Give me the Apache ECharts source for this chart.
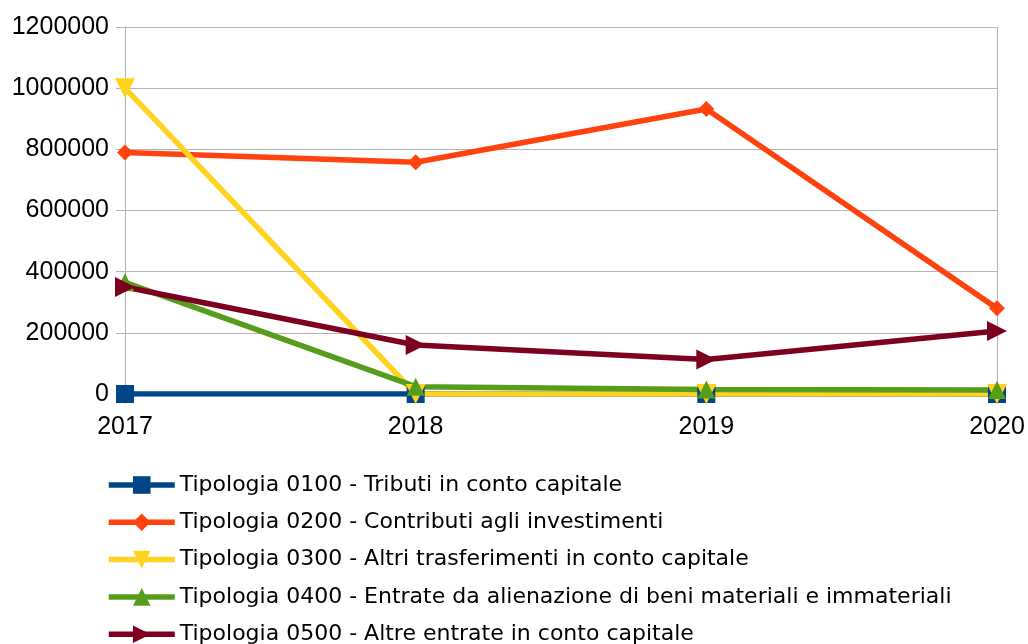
<!DOCTYPE html>
<html><head><meta charset="utf-8">
<script src="https://cdn.jsdelivr.net/npm/echarts@6/dist/echarts.min.js"></script>
<style>html,body{margin:0;padding:0;background:#fff}#c{width:1028px;height:644px}</style>
</head><body><div id="c"></div>
<script>
var years = ['2017', '2018', '2019', '2020'];
var yTicks = [0, 200000, 400000, 600000, 800000, 1000000, 1200000];
var names = [
  'Tipologia 0100 - Tributi in conto capitale',
  'Tipologia 0200 - Contributi agli investimenti',
  'Tipologia 0300 - Altri trasferimenti in conto capitale',
  'Tipologia 0400 - Entrate da alienazione di beni materiali e immateriali',
  'Tipologia 0500 - Altre entrate in conto capitale'
];
var tip0100 = [0, 0, 0, 0];
var tip0200 = [790000, 758000, 932000, 280000];
var tip0300 = [1000000, 0, 0, 0];
var tip0400 = [365000, 24000, 15000, 13000];
var tip0500 = [350000, 160000, 113000, 206000];

var colors = ['#004586', '#ff420e', '#ffd320', '#579d1c', '#7e0021'];
var symbols = ['rect', 'diamond', 'triangle', 'triangle', 'triangle'];
var rotates = [0, 0, 180, 0, -90];
var sizes = [18, 16, 20, 18, 20];
var data = [tip0100, tip0200, tip0300, tip0400, tip0500];

var series = data.map(function (d, i) {
  return {
    name: names[i], type: 'line', data: d,
    symbol: symbols[i], symbolRotate: rotates[i], symbolSize: sizes[i],
    showAllSymbol: true,
    lineStyle: { width: 5.5, color: colors[i] },
    itemStyle: { color: colors[i] },
    emphasis: { disabled: true },
    animation: false
  };
});

var chart = echarts.init(document.getElementById('c'), null, { renderer: 'canvas' });
chart.setOption({
  animation: false,
  grid: { left: 125, right: 31, top: 27, bottom: 250, containLabel: false },
  xAxis: {
    type: 'category', data: years, boundaryGap: false,
    axisLine: { show: true, lineStyle: { color: '#b3b3b3' } },
    axisTick: { show: true, length: 10, lineStyle: { color: '#b3b3b3' } },
    splitLine: { show: true, interval: function (idx) { return idx === years.length - 1; }, lineStyle: { color: '#b3b3b3', width: 1 } },
    axisLabel: { color: '#000', fontSize: 25, fontFamily: 'Liberation Sans', margin: 21 }
  },
  yAxis: {
    type: 'value', min: yTicks[0], max: yTicks[yTicks.length - 1], interval: 200000,
    axisLine: { show: true, lineStyle: { color: '#b3b3b3' } },
    axisTick: { show: true, length: 9, lineStyle: { color: '#b3b3b3' } },
    splitLine: { show: true, lineStyle: { color: '#b3b3b3', width: 1 } },
    axisLabel: { color: '#000', fontSize: 25, fontFamily: 'Liberation Sans', margin: 16,
      formatter: function (v) { return String(v); } }
  },
  legend: {
    orient: 'vertical', left: 101, top: 469, height: 176,
    itemWidth: 66, itemHeight: 22, itemGap: 15.3,
    lineStyle: { width: 5.5 },
    textStyle: { color: '#000', fontSize: 22, fontFamily: 'DejaVu Sans' },
    data: names
  },
  series: series
});
</script></body></html>
